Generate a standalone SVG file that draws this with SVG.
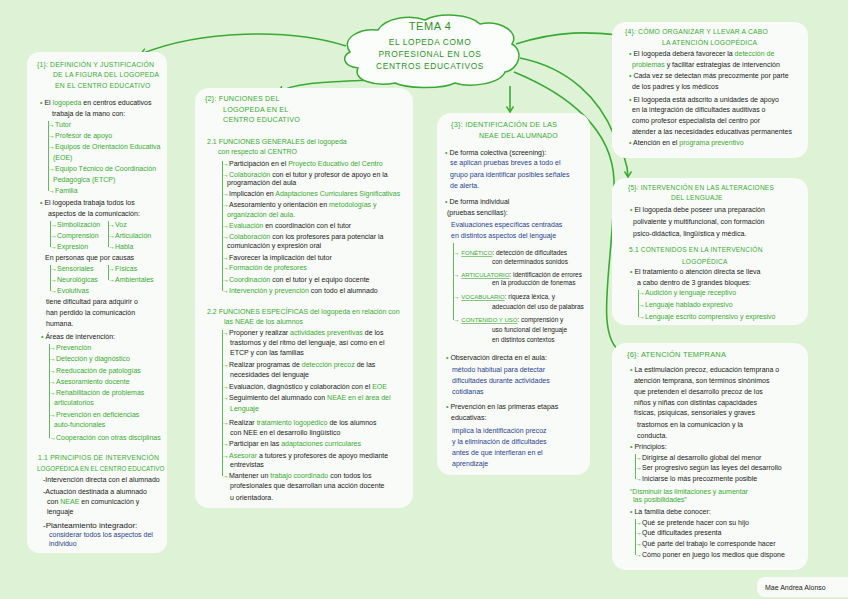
<svg xmlns="http://www.w3.org/2000/svg" width="848" height="599" viewBox="0 0 848 599">
<defs>
<style>
text{font-family:"Liberation Sans","DejaVu Sans",Arial,sans-serif;font-size:7px;fill:#222}
.g{fill:#3aa935}
.b{fill:#2a3f8f}
.h{font-size:6.8px;fill:#3aa935;letter-spacing:0.2px}
.sm{font-size:6.5px}
.u{text-decoration:underline;font-size:6px}
.tt{font-size:8.4px;fill:#2f922b;text-anchor:middle;letter-spacing:0.6px}
.tl{stroke:#3aa935;stroke-width:0.8;fill:none}
.box{fill:#f8fbf7}
.c{stroke:#3aa935;stroke-width:1.6;fill:none;marker-end:url(#ah)}
</style>
<marker id="ah" markerWidth="8" markerHeight="8" refX="6" refY="4" orient="auto" markerUnits="userSpaceOnUse">
<path d="M0.5,0.5 L6,4 L0.5,7.5" fill="none" stroke="#3aa935" stroke-width="1.5"/>
</marker>
</defs>
<rect width="848" height="599" fill="#def3d6"/>

<g id="connectors">
<path class="c" d="M346,46 C290,28 200,30 141,54"/>
<path class="c" d="M372,80 C330,82 295,82 279,92"/>
<path class="c" d="M510,86 L510,112"/>
<path class="c" d="M516,44 C560,30 590,32 619,35"/>
<path class="c" d="M520,58 C570,68 600,100 614,135 C624,155 628,165 628,177"/>
<path class="c" d="M514,72 C570,95 612,130 614,180 C615,260 592,335 622,353"/>
</g>

<g id="title">
<path d="M350,52 C340,38 360,28 378,30 C385,18 410,14 425,20 C440,12 470,14 480,24 C500,20 520,32 512,44 C525,52 518,70 505,72 C500,84 470,88 455,83 C440,90 405,88 395,83 C375,87 352,80 358,68 C342,66 342,56 350,52 Z" fill="#fafdf9" stroke="#3aa935" stroke-width="1.5"/>
<text class="tt" x="430" y="30" style="font-size:11px">TEMA 4</text>
<text class="tt" x="430" y="45">EL LOPEDA COMO</text>
<text class="tt" x="430" y="57">PROFESIONAL EN LOS</text>
<text class="tt" x="430" y="69">CENTROS EDUCATIVOS</text>
</g>

<g id="box1">
<rect class="box" x="27" y="52" width="140" height="501" rx="12"/>
<text class="h" x="37" y="67">{1}: DEFINICIÓN Y JUSTIFICACIÓN</text>
<text class="h" x="53" y="77">DE LA FIGURA DEL LOGOPEDA</text>
<text class="h" x="55" y="88">EN EL CENTRO EDUCATIVO</text>
<text x="40" y="105"><tspan class="g">• </tspan>El <tspan class="g">logopeda</tspan> en centros educativos</text>
<text x="52" y="116">trabaja de la mano con:</text>
<path class="tl" d="M48.5,121 V191"/>
<text class="g" x="48" y="127">→Tutor</text>
<text class="g" x="48" y="138">→Profesor de apoyo</text>
<text class="g" x="48" y="149">→Equipos de Orientación Educativa</text>
<text class="g" x="53" y="160">(EOE)</text>
<text class="g" x="48" y="171">→Equipo Técnico de Coordinación</text>
<text class="g" x="53" y="182">Pedagógica (ETCP)</text>
<text class="g" x="48" y="193">→Familia</text>
<text x="40" y="205"><tspan class="g">• </tspan>El logopeda trabaja todos los</text>
<text x="48" y="216">aspectos de la comunicación:</text>
<path class="tl" d="M50.5,221 V247 M108.5,221 V247"/>
<text class="g" x="50" y="227">→Simbolización</text>
<text class="g" x="50" y="238">→Comprensión</text>
<text class="g" x="50" y="249">→Expresión</text>
<text class="g" x="108" y="227">→Voz</text>
<text class="g" x="108" y="238">→Articulación</text>
<text class="g" x="108" y="249">→Habla</text>
<text x="45" y="260">En personas que por causas</text>
<path class="tl" d="M50.5,265 V291 M108.5,265 V280"/>
<text class="g" x="50" y="271">→Sensoriales</text>
<text class="g" x="50" y="282">→Neurológicas</text>
<text class="g" x="50" y="293">→Evolutivas</text>
<text class="g" x="108" y="271">→Físicas</text>
<text class="g" x="108" y="282">→Ambientales</text>
<text x="46" y="304">tiene dificultad para adquirir o</text>
<text x="46" y="315">han perdido la comunicación</text>
<text x="46" y="326">humana.</text>
<text x="41" y="339"><tspan class="g">• </tspan>Áreas de intervención:</text>
<path class="tl" d="M49.5,344 V438"/>
<text class="g" x="49" y="350">→Prevención</text>
<text class="g" x="49" y="361">→Detección y diagnóstico</text>
<text class="g" x="49" y="373">→Reeducación de patologías</text>
<text class="g" x="49" y="384">→Asesoramiento docente</text>
<text class="g" x="49" y="395">→Rehabilitación de problemas</text>
<text class="g" x="54" y="405">articulatorios</text>
<text class="g" x="49" y="417">→Prevención en deficiencias</text>
<text class="g" x="54" y="427">auto-funcionales</text>
<text class="g" x="49" y="440">→Cooperación con otras disciplinas</text>
<text class="h" x="38" y="460">1.1 PRINCIPIOS DE INTERVENCIÓN</text>
<text class="h" x="37" y="471" style="font-size:6.3px;letter-spacing:0">LOGOPÉDICA EN EL CENTRO EDUCATIVO</text>
<text x="43" y="482">-Intervención directa con el alumnado</text>
<text x="43" y="494">-Actuación destinada a alumnado</text>
<text x="47" y="504">con <tspan class="g">NEAE</tspan> en comunicación y</text>
<text x="47" y="514">lenguaje</text>
<text x="43" y="528" style="font-size:8px">-Planteamiento integrador:</text>
<text class="b" x="49" y="537">considerar todos los aspectos del</text>
<text class="b" x="49" y="546">individuo</text>
</g>

<g id="box2">
<rect class="box" x="195" y="88" width="218" height="420" rx="14"/>
<text class="h" x="205" y="101" style="font-size:7.2px">{2}: FUNCIONES DEL</text>
<text class="h" x="223" y="112" style="font-size:7.2px">LOGOPEDA EN EL</text>
<text class="h" x="223" y="122" style="font-size:7.2px">CENTRO EDUCATIVO</text>
<text class="g" x="207" y="144">2.1 FUNCIONES GENERALES del logopeda</text>
<text class="g" x="218" y="154">con respecto al CENTRO</text>
<path class="tl" d="M222.5,161 V291"/>
<text x="222" y="166"><tspan class="g">→</tspan>Participación en el <tspan class="g">Proyecto Educativo del Centro</tspan></text>
<text x="222" y="177"><tspan class="g">→Colaboración</tspan> con el tutor y profesor de apoyo en la</text>
<text x="227" y="185">programación del aula</text>
<text x="222" y="196"><tspan class="g">→</tspan>Implicación en <tspan class="g">Adaptaciones Curriculares Significativas</tspan></text>
<text x="222" y="207"><tspan class="g">→</tspan>Asesoramiento y orientación en <tspan class="g">metodologías y</tspan></text>
<text class="g" x="227" y="217">organización del aula.</text>
<text x="222" y="228"><tspan class="g">→Evaluación</tspan> en coordinación con el tutor</text>
<text x="222" y="239"><tspan class="g">→Colaboración</tspan> con los profesores para potenciar la</text>
<text x="227" y="248">comunicación y expresión oral</text>
<text x="222" y="260"><tspan class="g">→</tspan>Favorecer la implicación del tutor</text>
<text class="g" x="222" y="270">→Formación de profesores</text>
<text x="222" y="282"><tspan class="g">→Coordinación</tspan> con el tutor y el equipo docente</text>
<text x="222" y="293"><tspan class="g">→Intervención y prevención</tspan> con todo el alumnado</text>
<text class="g" x="207" y="314">2.2 FUNCIONES ESPECÍFICAS del logopeda en relación con</text>
<text class="g" x="224" y="324">las NEAE de los alumnos</text>
<path class="tl" d="M222.5,330 V476"/>
<text x="222" y="335"><tspan class="g">→</tspan>Proponer y realizar <tspan class="g">actividades preventivas</tspan> de los</text>
<text x="230" y="345">trastornos y del ritmo del lenguaje, así como en el</text>
<text x="230" y="355">ETCP y con las familias</text>
<text x="222" y="367"><tspan class="g">→</tspan>Realizar programas de <tspan class="g">detección precoz</tspan> de las</text>
<text x="230" y="377">necesidades del lenguaje</text>
<text x="222" y="389"><tspan class="g">→</tspan>Evaluación, diagnóstico y colaboración con el <tspan class="g">EOE</tspan></text>
<text x="222" y="400"><tspan class="g">→</tspan>Seguimiento del alumnado con <tspan class="g">NEAE en el área del</tspan></text>
<text class="g" x="230" y="411">Lenguaje</text>
<text x="222" y="425"><tspan class="g">→</tspan>Realizar <tspan class="g">tratamiento logopédico</tspan> de los alumnos</text>
<text x="230" y="435">con NEE en el desarrollo lingüístico</text>
<text x="222" y="446"><tspan class="g">→</tspan>Participar en las <tspan class="g">adaptaciones curriculares</tspan></text>
<text x="222" y="458"><tspan class="g">→Asesorar</tspan> a tutores y profesores de apoyo mediante</text>
<text x="230" y="467">entrevistas</text>
<text x="222" y="478"><tspan class="g">→</tspan>Mantener un <tspan class="g">trabajo coordinado</tspan> con todos los</text>
<text x="230" y="488">profesionales que desarrollan una acción docente</text>
<text x="230" y="500">u orientadora.</text>
</g>

<g id="box3">
<rect class="box" x="437" y="113" width="153" height="362" rx="14"/>
<text class="h" x="451" y="127" style="font-size:7.4px">{3}: IDENTIFICACIÓN DE LAS</text>
<text class="h" x="479" y="138" style="font-size:7px">NEAE DEL ALUMNADO</text>
<text x="445" y="155"><tspan class="g">• </tspan>De forma colectiva (screening):</text>
<text class="b" x="450" y="165">se aplican pruebas breves a todo el</text>
<text class="b" x="450" y="177">grupo para identificar posibles señales</text>
<text class="b" x="450" y="188">de alerta.</text>
<text x="445" y="204"><tspan class="g">• </tspan>De forma individual</text>
<text x="447" y="215">(pruebas sencillas):</text>
<text class="b" x="451" y="227">Evaluaciones específicas centradas</text>
<text class="b" x="451" y="238">en distintos aspectos del lenguaje</text>
<path class="tl" d="M453.5,243 V320"/>
<text class="sm" x="453" y="255"><tspan class="g">→ </tspan><tspan class="g u">FONÉTICO</tspan>: detección de dificultades</text>
<text class="sm" x="492" y="264">con determinados sonidos</text>
<text class="sm" x="453" y="277"><tspan class="g">→ </tspan><tspan class="g u">ARTICULATORIO</tspan>: identificación de errores</text>
<text class="sm" x="492" y="285">en la producción de fonemas</text>
<text class="sm" x="453" y="299"><tspan class="g">→ </tspan><tspan class="g u">VOCABULARIO</tspan>: riqueza léxica, y</text>
<text class="sm" x="492" y="309">adecuación del uso de palabras</text>
<text class="sm" x="453" y="322"><tspan class="g">→ </tspan><tspan class="g u">CONTENIDO Y USO</tspan>: comprensión y</text>
<text class="sm" x="492" y="332">uso funcional del lenguaje</text>
<text class="sm" x="492" y="342">en distintos contextos</text>
<text x="446" y="360"><tspan class="g">• </tspan>Observación directa en el aula:</text>
<text class="b" x="452" y="372">método habitual para detectar</text>
<text class="b" x="452" y="383">dificultades durante actividades</text>
<text class="b" x="452" y="394">cotidianas</text>
<text x="446" y="409"><tspan class="g">• </tspan>Prevención en las primeras etapas</text>
<text x="451" y="420">educativas:</text>
<text class="b" x="452" y="433">implica la identificación precoz</text>
<text class="b" x="452" y="444">y la eliminación de dificultades</text>
<text class="b" x="452" y="455">antes de que interfieran en el</text>
<text class="b" x="452" y="466">aprendizaje</text>
</g>

<g id="box4">
<rect class="box" x="612" y="22" width="196" height="136" rx="14"/>
<text class="h" x="625" y="34">{4}: CÓMO ORGANIZAR Y LLEVAR A CABO</text>
<text class="h" x="662" y="45">LA ATENCIÓN LOGOPÉDICA</text>
<text x="629" y="56"><tspan class="g">• </tspan>El logopeda deberá favorecer la <tspan class="g">detección de</tspan></text>
<text x="632" y="67"><tspan class="g">problemas</tspan> y facilitar estrategias de intervención</text>
<text x="629" y="78"><tspan class="g">• </tspan>Cada vez se detectan más precozmente por parte</text>
<text x="632" y="89">de los padres y los médicos</text>
<text x="629" y="102"><tspan class="g">• </tspan>El logopeda está adscrito a unidades de apoyo</text>
<text x="632" y="112">en la integración de dificultades auditivas o</text>
<text x="632" y="123">como profesor especialista del centro por</text>
<text x="632" y="134">atender a las necesidades educativas permanentes</text>
<text x="629" y="145"><tspan class="g">• </tspan>Atención en el <tspan class="g">programa preventivo</tspan></text>
</g>

<g id="box5">
<rect class="box" x="612" y="178" width="196" height="147" rx="14"/>
<text class="h" x="628" y="190" style="font-size:6.6px">{5}: INTERVENCIÓN EN LAS ALTERACIONES</text>
<text class="h" x="671" y="200" style="font-size:6.6px">DEL LENGUAJE</text>
<text x="630" y="212"><tspan class="g">• </tspan>El logopeda debe poseer una preparación</text>
<text x="633" y="224">polivalente y multifuncional, con formación</text>
<text x="633" y="236">psico-didáctica, lingüística y médica.</text>
<text class="h" x="629" y="252" style="font-size:6.6px">5.1 CONTENIDOS EN LA INTERVENCIÓN</text>
<text class="h" x="682" y="264" style="font-size:6.6px">LOGOPÉDICA</text>
<text x="630" y="274"><tspan class="g">• </tspan>El tratamiento o atención directa se lleva</text>
<text x="637" y="285">a cabo dentro de 3 grandes bloques:</text>
<path class="tl" d="M638.5,290 V317"/>
<text class="g" x="638" y="295">→Audición y lenguaje receptivo</text>
<text class="g" x="638" y="307">→Lenguaje hablado expresivo</text>
<text class="g" x="638" y="319">→Lenguaje escrito comprensivo y expresivo</text>
</g>

<g id="box6">
<rect class="box" x="612" y="343" width="196" height="227" rx="14"/>
<text class="h" x="627" y="357" style="font-size:7.5px">{6}: ATENCIÓN TEMPRANA</text>
<text x="630" y="372"><tspan class="g">• </tspan>La estimulación precoz, educación temprana o</text>
<text x="634" y="383">atención temprana, son términos sinónimos</text>
<text x="634" y="394">que pretenden el desarrollo precoz de los</text>
<text x="634" y="405">niños y niñas con distintas capacidades</text>
<text x="634" y="415">físicas, psíquicas, sensoriales y graves</text>
<text x="637" y="427">trastornos en la comunicación y la</text>
<text x="637" y="438">conducta.</text>
<text x="630" y="449"><tspan class="g">• </tspan>Principios:</text>
<path class="tl" d="M635.5,454 V479"/>
<text x="635" y="460"><tspan class="g">→</tspan>Dirigirse al desarrollo global del menor</text>
<text x="635" y="470"><tspan class="g">→</tspan>Ser progresivo según las leyes del desarrollo</text>
<text x="635" y="481"><tspan class="g">→</tspan>Iniciarse lo más precozmente posible</text>
<text class="g" x="630" y="494">“Disminuir las limitaciones y aumentar</text>
<text class="g" x="633" y="502">las posibilidades”</text>
<text x="630" y="514"><tspan class="g">• </tspan>La familia debe conocer:</text>
<path class="tl" d="M635.5,519 V555"/>
<text x="635" y="525"><tspan class="g">→</tspan>Qué se pretende hacer con su hijo</text>
<text x="635" y="535"><tspan class="g">→</tspan>Qué dificultades presenta</text>
<text x="635" y="546"><tspan class="g">→</tspan>Qué parte del trabajo le corresponde hacer</text>
<text x="635" y="557"><tspan class="g">→</tspan>Cómo poner en juego los medios que dispone</text>
</g>

<g id="author">
<rect class="box" x="757" y="577" width="100" height="20" rx="8"/>
<text x="765" y="590" style="font-size:7px">Mae Andrea Alonso</text>
</g>
</svg>
